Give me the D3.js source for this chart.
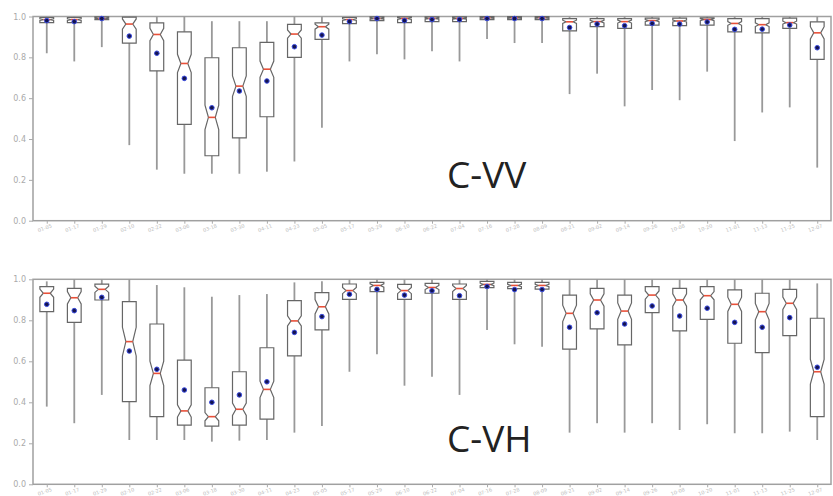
<!DOCTYPE html>
<html>
<head>
<meta charset="utf-8">
<script src="https://cdn.jsdelivr.net/npm/d3@7"></script>
<style>
  body { margin: 0; background: #fff; }
  text { font-family: "DejaVu Sans", sans-serif; }
</style>
</head>
<body>
<script>
// acquisition dates (x categories)
var dates = ["01-05","01-17","01-29","02-10","02-22","03-06","03-18","03-30","04-11","04-23",
             "05-05","05-17","05-29","06-10","06-22","07-04","07-16","07-28","08-09","08-21",
             "09-02","09-14","09-26","10-08","10-20","11-01","11-13","11-25","12-07"];

var yTicks = [0, 0.2, 0.4, 0.6, 0.8, 1.0];

// C-VV
var vvLow  = [0.82,0.78,0.85,0.37,0.25,0.23,0.23,0.23,0.24,0.29,0.455,0.78,0.815,0.79,0.83,0.78,0.89,0.87,0.87,0.62,0.72,0.56,0.64,0.59,0.73,0.39,0.53,0.555,0.26];
var vvQ1   = [0.97,0.97,0.985,0.87,0.734,0.472,0.318,0.406,0.509,0.80,0.888,0.965,0.98,0.97,0.975,0.975,0.985,0.985,0.985,0.93,0.95,0.942,0.958,0.955,0.958,0.925,0.92,0.942,0.79];
var vvMed  = [0.985,0.985,0.99,0.963,0.912,0.77,0.506,0.659,0.742,0.914,0.95,0.985,0.99,0.99,0.99,0.99,0.993,0.993,0.993,0.974,0.975,0.975,0.98,0.978,0.985,0.966,0.96,0.97,0.92];
var vvQ3   = [0.995,0.995,0.998,0.997,0.969,0.925,0.798,0.847,0.873,0.961,0.969,0.995,0.998,0.998,0.998,0.998,0.999,0.999,0.999,0.99,0.99,0.99,0.992,0.992,0.993,0.99,0.99,0.992,0.974];
var vvHigh = [1,1,1,1,1,1,0.977,0.977,0.977,1,1,1,1,1,1,1,1,1,1,1,1,1,1,1,1,1,1,1,1];
var vvMean = [0.98,0.975,0.99,0.904,0.82,0.697,0.553,0.635,0.684,0.852,0.909,0.975,0.99,0.98,0.985,0.985,0.99,0.99,0.99,0.946,0.963,0.955,0.966,0.963,0.973,0.937,0.938,0.958,0.847];
var vvNotch = [0.004,0.004,0.003,0.025,0.03,0.045,0.06,0.05,0.04,0.02,0.012,0.004,0.003,0.004,0.003,0.003,0.002,0.002,0.002,0.008,0.006,0.007,0.005,0.005,0.005,0.009,0.009,0.007,0.03];

// C-VH
var vhLow  = [0.379,0.298,0.436,0.216,0.216,0.216,0.208,0.213,0.216,0.252,0.284,0.549,0.634,0.481,0.525,0.436,0.753,0.683,0.671,0.252,0.298,0.252,0.298,0.265,0.293,0.249,0.249,0.257,0.216];
var vhQ1   = [0.842,0.79,0.899,0.403,0.33,0.289,0.284,0.289,0.318,0.626,0.753,0.902,0.94,0.902,0.932,0.902,0.959,0.955,0.952,0.659,0.758,0.68,0.837,0.748,0.805,0.688,0.642,0.725,0.33];
var vhMed  = [0.932,0.91,0.951,0.696,0.541,0.358,0.33,0.366,0.463,0.797,0.866,0.945,0.97,0.945,0.96,0.955,0.975,0.97,0.97,0.834,0.899,0.845,0.923,0.899,0.92,0.878,0.842,0.883,0.549];
var vhQ3   = [0.964,0.956,0.976,0.891,0.782,0.606,0.471,0.549,0.666,0.896,0.935,0.977,0.985,0.975,0.98,0.977,0.99,0.985,0.985,0.923,0.956,0.923,0.964,0.956,0.964,0.948,0.932,0.951,0.81];
var vhHigh = [0.99,1,1,1,0.972,0.961,0.915,0.923,0.928,0.985,0.99,1,1,1,1,1,1,1,1,1,1,1,1,1,1,1,1,1,0.98];
var vhMean = [0.878,0.847,0.912,0.65,0.561,0.46,0.40,0.436,0.50,0.741,0.818,0.927,0.951,0.923,0.944,0.92,0.965,0.95,0.95,0.766,0.837,0.782,0.87,0.821,0.859,0.79,0.766,0.813,0.571];
var vhNotch = [0.02,0.03,0.015,0.07,0.06,0.03,0.02,0.03,0.04,0.025,0.035,0.015,0.008,0.015,0.01,0.015,0.006,0.006,0.006,0.04,0.03,0.04,0.02,0.03,0.02,0.035,0.04,0.03,0.06];

var width = 833,
    height = 496;

var svg = d3.select("body").append("svg")
    .attr("width", width)
    .attr("height", height);

var x = d3.scaleLinear()
    .domain([0.5, dates.length + 0.5])
    .range([33, 831]);

var boxW = (x(1) - x(0.5)); // matplotlib default width 0.5

function drawPanel(top, bottom, title, low, q1, med, q3, high, mean, notch) {
    var y = d3.scaleLinear().domain([0, 1]).range([bottom, top]);
    var g = svg.append("g");

    // frame
    g.append("rect")
        .attr("x", x.range()[0])
        .attr("y", top)
        .attr("width", x.range()[1] - x.range()[0])
        .attr("height", bottom - top)
        .attr("fill", "none")
        .attr("stroke", "#a0a0a0")
        .attr("stroke-width", 1.5);

    // y axis
    var yAxis = d3.axisLeft(y)
        .tickValues(yTicks)
        .tickFormat(d3.format(".1f"))
        .tickSize(4)
        .tickPadding(3);
    var ya = g.append("g")
        .attr("transform", "translate(" + x.range()[0] + ",0)")
        .call(yAxis);
    ya.select(".domain").remove();
    ya.selectAll("line").attr("stroke", "#aaa");
    ya.selectAll("text").attr("fill", "#aaa").style("font-size", "8px");

    // x axis
    var xAxis = d3.axisBottom(x)
        .tickValues(d3.range(1, dates.length + 1))
        .tickFormat(function(d) { return dates[d - 1]; })
        .tickSize(3);
    var xa = g.append("g")
        .attr("transform", "translate(0," + bottom + ")")
        .call(xAxis);
    xa.select(".domain").remove();
    xa.selectAll("line").attr("stroke", "#aaa");
    xa.selectAll("text")
        .attr("fill", "#bbb")
        .style("font-size", "5px")
        .attr("text-anchor", "end")
        .attr("y", 0)
        .attr("dy", "0")
        .attr("transform", "translate(5,6.5) rotate(-20)");

    var idx = d3.range(dates.length);

    // whiskers
    g.selectAll(".whisker-lo").data(idx).enter().append("line")
        .attr("x1", function(i) { return x(i + 1); })
        .attr("x2", function(i) { return x(i + 1); })
        .attr("y1", function(i) { return y(low[i]); })
        .attr("y2", function(i) { return y(q1[i]); })
        .attr("stroke", "#999")
        .attr("stroke-width", 1.8);
    g.selectAll(".whisker-hi").data(idx).enter().append("line")
        .attr("x1", function(i) { return x(i + 1); })
        .attr("x2", function(i) { return x(i + 1); })
        .attr("y1", function(i) { return y(q3[i]); })
        .attr("y2", function(i) { return y(high[i]); })
        .attr("stroke", "#999")
        .attr("stroke-width", 1.8);

    // notched boxes
    g.selectAll(".box").data(idx).enter().append("path")
        .attr("d", function(i) {
            var cx = x(i + 1), h = boxW / 2, n = boxW / 4;
            var nl = Math.max(med[i] - notch[i], q1[i]);
            var nh = Math.min(med[i] + notch[i], q3[i]);
            return "M" + (cx - h) + "," + y(q1[i]) +
                "L" + (cx + h) + "," + y(q1[i]) +
                "L" + (cx + h) + "," + y(nl) +
                "L" + (cx + n) + "," + y(med[i]) +
                "L" + (cx + h) + "," + y(nh) +
                "L" + (cx + h) + "," + y(q3[i]) +
                "L" + (cx - h) + "," + y(q3[i]) +
                "L" + (cx - h) + "," + y(nh) +
                "L" + (cx - n) + "," + y(med[i]) +
                "L" + (cx - h) + "," + y(nl) + "Z";
        })
        .attr("fill", "none")
        .attr("stroke", "#666")
        .attr("stroke-width", 1.2);

    // medians
    g.selectAll(".median").data(idx).enter().append("line")
        .attr("x1", function(i) { return x(i + 1) - boxW / 4; })
        .attr("x2", function(i) { return x(i + 1) + boxW / 4; })
        .attr("y1", function(i) { return y(med[i]); })
        .attr("y2", function(i) { return y(med[i]); })
        .attr("stroke", "#e8513a")
        .attr("stroke-width", 1.6);

    // means
    g.selectAll(".mean").data(idx).enter().append("circle")
        .attr("cx", function(i) { return x(i + 1); })
        .attr("cy", function(i) { return y(mean[i]); })
        .attr("r", 2.3)
        .attr("fill", "#141450")
        .attr("stroke", "#3a4be0")
        .attr("stroke-width", 1);

    g.append("text")
        .attr("x", 447)
        .attr("y", y(0.16))
        .attr("fill", "#222")
        .style("font-family", "'Open Sans', sans-serif")
        .style("font-size", "37px")
        .text(title);
}

drawPanel(16.5, 220.7, "C-VV", vvLow, vvQ1, vvMed, vvQ3, vvHigh, vvMean, vvNotch);
drawPanel(279.3, 484.3, "C-VH", vhLow, vhQ1, vhMed, vhQ3, vhHigh, vhMean, vhNotch);
</script>
</body>
</html>
